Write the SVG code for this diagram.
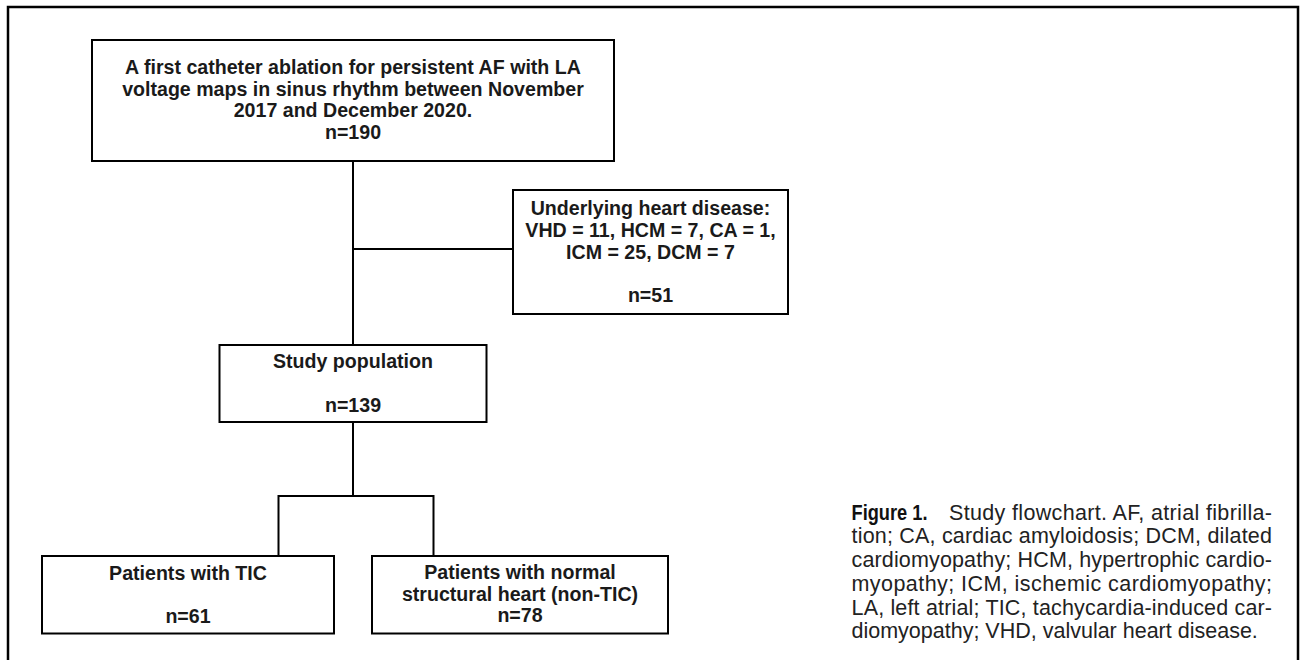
<svg xmlns="http://www.w3.org/2000/svg" width="1300" height="660" viewBox="0 0 1300 660">
<style>
.box{fill:#fff;stroke:#000;stroke-width:2}
.lbl{font-family:"Liberation Sans",Arial,sans-serif;font-weight:bold;font-size:19.6px;fill:#1a1a1a;text-anchor:middle}
.cap{font-family:"Liberation Sans",Arial,sans-serif;font-size:21.5px;fill:#222}
.capb{font-family:"Liberation Sans",Arial,sans-serif;font-size:21.5px;font-weight:bold;fill:#111}
.conn{fill:none;stroke:#000;stroke-width:2}
</style>
<rect width="1300" height="660" fill="#fff"/>
<rect x="8" y="7" width="1290" height="700" fill="none" stroke="#000" stroke-width="2.5"/>
<g id="connectors">
<polyline class="conn" points="353,161 353,345"/>
<polyline class="conn" points="353,249 513,249"/>
<polyline class="conn" points="353,422 353,496"/>
<polyline class="conn" points="278.5,556 278.5,496 433.5,496 433.5,556"/>
</g>
<g id="n1">
<rect class="box" x="92" y="40" width="522" height="121"/>
<text class="lbl" x="353" y="74">A first catheter ablation for persistent AF with LA</text>
<text class="lbl" x="353" y="95.5">voltage maps in sinus rhythm between November</text>
<text class="lbl" x="353" y="117">2017 and December 2020.</text>
<text class="lbl" x="353" y="138.5">n=190</text>
</g>
<g id="n2">
<rect class="box" x="513" y="190" width="275" height="124"/>
<text class="lbl" x="650.5" y="215">Underlying heart disease:</text>
<text class="lbl" x="650.5" y="237">VHD = 11, HCM = 7, CA = 1,</text>
<text class="lbl" x="650.5" y="259">ICM = 25, DCM = 7</text>
<text class="lbl" x="650.5" y="302">n=51</text>
</g>
<g id="n3">
<rect class="box" x="219.5" y="345" width="267" height="77"/>
<text class="lbl" x="353" y="368">Study population</text>
<text class="lbl" x="353" y="411.5">n=139</text>
</g>
<g id="n4">
<rect class="box" x="42" y="556" width="292" height="77.5"/>
<text class="lbl" x="188" y="580">Patients with TIC</text>
<text class="lbl" x="188" y="623">n=61</text>
</g>
<g id="n5">
<rect class="box" x="372" y="556" width="296" height="77.5"/>
<text class="lbl" x="520" y="579">Patients with normal</text>
<text class="lbl" x="520" y="600.5">structural heart (non-TIC)</text>
<text class="lbl" x="520" y="622">n=78</text>
</g>
<g id="caption">
<text class="capb" x="851.5" y="519.5" textLength="76" lengthAdjust="spacingAndGlyphs">Figure 1.</text>
<text class="cap" x="949" y="519.5" textLength="323" lengthAdjust="spacing">Study flowchart. AF, atrial fibrilla-</text>
<text class="cap" x="851.5" y="543.3" textLength="420.5" lengthAdjust="spacing">tion; CA, cardiac amyloidosis; DCM, dilated</text>
<text class="cap" x="851.5" y="567" textLength="420.5" lengthAdjust="spacing">cardiomyopathy; HCM, hypertrophic cardio-</text>
<text class="cap" x="851.5" y="590.8" textLength="420.5" lengthAdjust="spacing">myopathy; ICM, ischemic cardiomyopathy;</text>
<text class="cap" x="851.5" y="614.5" textLength="420.5" lengthAdjust="spacing">LA, left atrial; TIC, tachycardia-induced car-</text>
<text class="cap" x="851.5" y="638.3">diomyopathy; VHD, valvular heart disease.</text>
</g>
</svg>
